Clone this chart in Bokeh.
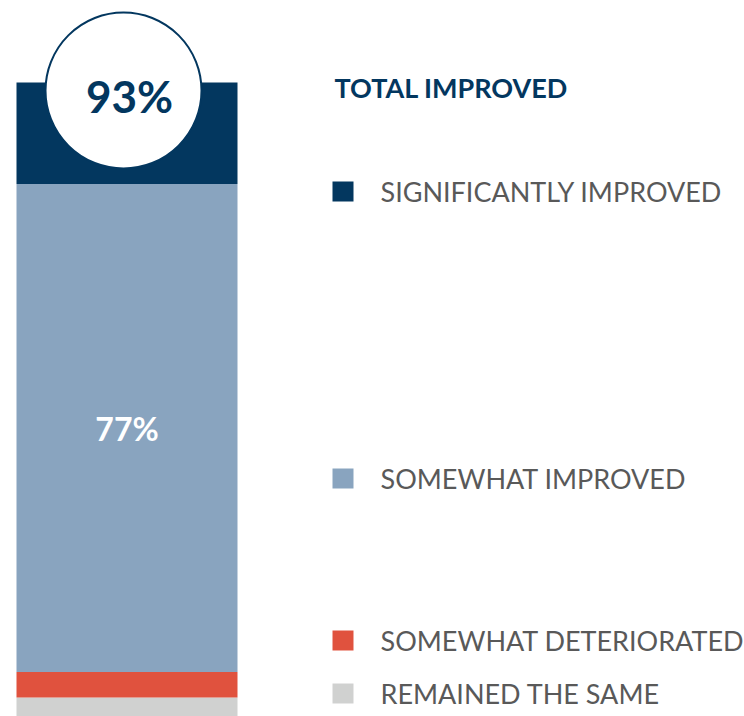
from bokeh.plotting import figure
from bokeh.models import Range1d
from bokeh.core.properties import value
from bokeh.embed import file_html
from bokeh.resources import INLINE

# ---- data ----
categories = ["SIGNIFICANTLY IMPROVED", "SOMEWHAT IMPROVED", "SOMEWHAT DETERIORATED", "REMAINED THE SAME"]
values = [16, 77, 4, 3]
colors = ["#03375F", "#89A4BF", "#E0523E", "#D0D1D0"]
total_title = "TOTAL IMPROVED"
total_value = values[0] + values[1]

# ---- layout constants (page pixels) ----
W, H = 744, 716
BAR_LEFT, BAR_RIGHT = 16, 237
BAR_TOP_PX = 82
FONT = "Lato"
NAVY = "#03375F"
GREY_TXT = "#595959"

p = figure(width=W, height=H, output_backend="svg", toolbar_location=None,
           x_range=Range1d(0, W), y_range=Range1d(H, 0),
           min_border=0)
p.axis.visible = False
p.grid.visible = False
p.outline_line_color = None
p.background_fill_color = "white"
p.border_fill_color = "white"

# percentage range for bars: 0% at bottom edge, 100% at BAR_TOP_PX
px_per_pct = (H - BAR_TOP_PX) / 100.0
p.extra_y_ranges = {"pct": Range1d(0, H / px_per_pct)}

# stacked bar (bottom to top: last category first)
bottom = 0
stack = list(zip(categories, values, colors))[::-1]
for cat, v, c in stack:
    p.quad(left=BAR_LEFT, right=BAR_RIGHT, bottom=bottom, top=bottom + v,
           fill_color=c, line_color=None, y_range_name="pct")
    bottom += v

# label on somewhat improved segment
seg_bottom = values[2] + values[3]
p.text(x=[(BAR_LEFT + BAR_RIGHT) / 2], y=[seg_bottom + values[1] / 2],
       text=[f"{values[1]}%"], y_range_name="pct",
       text_font=value(FONT), text_font_style="bold", text_font_size="32px",
       text_color="white", text_align="center", text_baseline="middle")

# total circle
p.circle(x=[123], y=[90], radius=78, fill_color="white",
         line_color=NAVY, line_width=2)
p.text(x=[129], y=[95], text=[f"{total_value}%"],
       text_font=value(FONT), text_font_style="bold", text_font_size="44px",
       text_color=NAVY, text_align="center", text_baseline="middle")

# legend
p.text(x=[334], y=[87], text=[total_title],
       text_font=value(FONT), text_font_style="bold", text_font_size="27px",
       text_color=NAVY, text_align="left", text_baseline="middle")
legend_y = [191, 478, 640, 693]
p.rect(x=[342.5] * 4, y=legend_y, width=21, height=20,
       fill_color=colors, line_color=None)
p.text(x=[380] * 4, y=legend_y, text=categories,
       text_font=value(FONT), text_font_size="27px",
       text_color=GREY_TXT, text_align="left", text_baseline="middle")

open("out.html", "w").write(file_html(p, INLINE))
